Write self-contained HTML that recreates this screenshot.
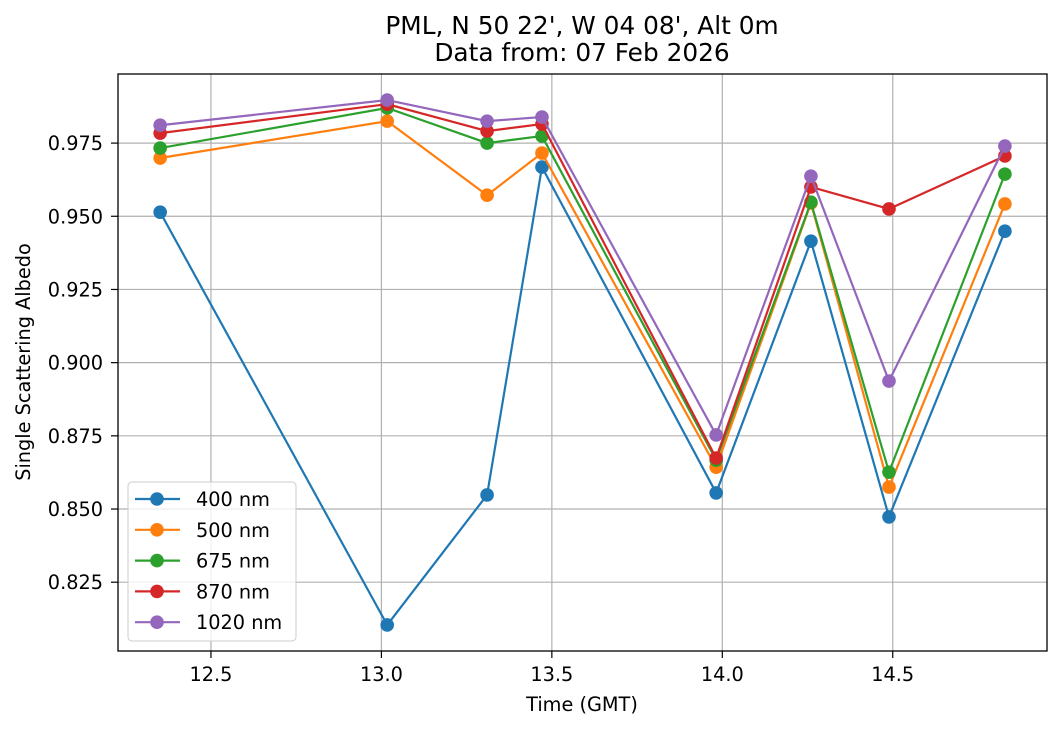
<!DOCTYPE html>
<html><head><meta charset="utf-8"><style>
body{margin:0;background:#fff;}
svg text{font-family:"DejaVu Sans","Liberation Sans",sans-serif;fill:#000;}
</style></head><body>
<svg id="chart" width="1062" height="729" xmlns="http://www.w3.org/2000/svg">
<rect width="1062" height="729" fill="#fff"/>
<g id="grid"></g><g id="axes"></g><g id="series"></g><g id="legend"></g>
</svg>
<script>
const times=[12.351,13.017,13.310,13.471,13.982,14.260,14.489,14.829];
const s400=[0.9514,0.8104,0.8548,0.9668,0.8555,0.9415,0.8473,0.9449];
const s500=[0.9699,0.9825,0.9572,0.9716,0.8643,0.9545,0.8575,0.9542];
const s675=[0.9733,0.9870,0.9750,0.9774,0.8667,0.9548,0.8626,0.9644];
const s870=[0.9784,0.9883,0.9791,0.9815,0.8674,0.9600,0.9525,0.9706];
const s1020=[0.9811,0.9897,0.9825,0.9839,0.8753,0.9637,0.8937,0.9740];
const seriesNames=["400 nm","500 nm","675 nm","870 nm","1020 nm"];
const xTicks=[12.5,13.0,13.5,14.0,14.5];
const yTicks=[0.825,0.850,0.875,0.900,0.925,0.950,0.975];
const NS="http://www.w3.org/2000/svg";
const L=118,R=1047,T=74,B=651,xmin=12.2273,xmax=14.9525,ymin=0.8015,ymax=0.9986;
const X=v=>L+(v-xmin)/(xmax-xmin)*(R-L);
const Y=v=>B-(v-ymin)/(ymax-ymin)*(B-T);
function mk(tag,attrs,parent,text){const e=document.createElementNS(NS,tag);for(const k in attrs)e.setAttribute(k,attrs[k]);if(text!==undefined)e.textContent=text;parent.appendChild(e);return e;}
const grid=document.getElementById('grid'),axes=document.getElementById('axes'),ser=document.getElementById('series'),leg=document.getElementById('legend');
xTicks.forEach(t=>{const x=X(t);
const g=mk('line',{x1:x,x2:x,y1:T,y2:B,stroke:'#b0b0b0','stroke-width':1.2},grid);

mk('line',{x1:x,x2:x,y1:B,y2:B+7,stroke:'#000','stroke-width':1.2},axes);
const tl=mk('text',{x:x,y:B+30,'text-anchor':'middle','font-size':19.3},axes,t.toFixed(1));
});
yTicks.forEach(t=>{const y=Y(t);
const g=mk('line',{x1:L,x2:R,y1:y,y2:y,stroke:'#b0b0b0','stroke-width':1.2},grid);

mk('line',{x1:L-7,x2:L,y1:y,y2:y,stroke:'#000','stroke-width':1.2},axes);
const tl=mk('text',{x:L-15,y:y+7,'text-anchor':'end','font-size':19.3},axes,t.toFixed(3));
});
const frame=mk('rect',{x:L,y:T,width:R-L,height:B-T,fill:'none',stroke:'#000','stroke-width':1.3},axes);

const t1=mk('text',{x:582,y:34,'text-anchor':'middle','font-size':24.8},axes,"PML, N 50 22', W 04 08', Alt 0m");

const t2=mk('text',{x:582,y:61,'text-anchor':'middle','font-size':24.8},axes,"Data from: 07 Feb 2026");

const xt=mk('text',{x:582,y:711,'text-anchor':'middle','font-size':19.3},axes,"Time (GMT)");

const yt=mk('text',{x:30,y:362,'text-anchor':'middle','font-size':19.3,transform:'rotate(-90 30 362)'},axes,"Single Scattering Albedo");

const data=[s400,s500,s675,s870,s1020];
const colors=['#1f77b4','#ff7f0e','#2ca02c','#d62728','#9467bd'];
data.forEach((vals,i)=>{
const g=mk('g',{},ser);


mk('polyline',{points:vals.map((v,j)=>X(times[j])+','+Y(v)).join(' '),fill:'none',stroke:colors[i],'stroke-width':2.2},g);
vals.forEach((v,j)=>{const c=mk('circle',{cx:X(times[j]),cy:Y(v),r:6.8,fill:colors[i]},g);
});});
const lb=mk('rect',{x:128,y:482,width:168,height:159,rx:4,fill:'#fff','fill-opacity':0.8,stroke:'#ccc'},leg);

seriesNames.forEach((n,i)=>{const y=499+i*30.8;
const g=mk('g',{},leg);

mk('line',{x1:135,x2:180,y1:y,y2:y,stroke:colors[i],'stroke-width':2.2},g);
mk('circle',{cx:157,cy:y,r:6.8,fill:colors[i]},g);
mk('text',{x:196,y:y+7,'font-size':19.3},g,n);});
</script>
</body></html>
